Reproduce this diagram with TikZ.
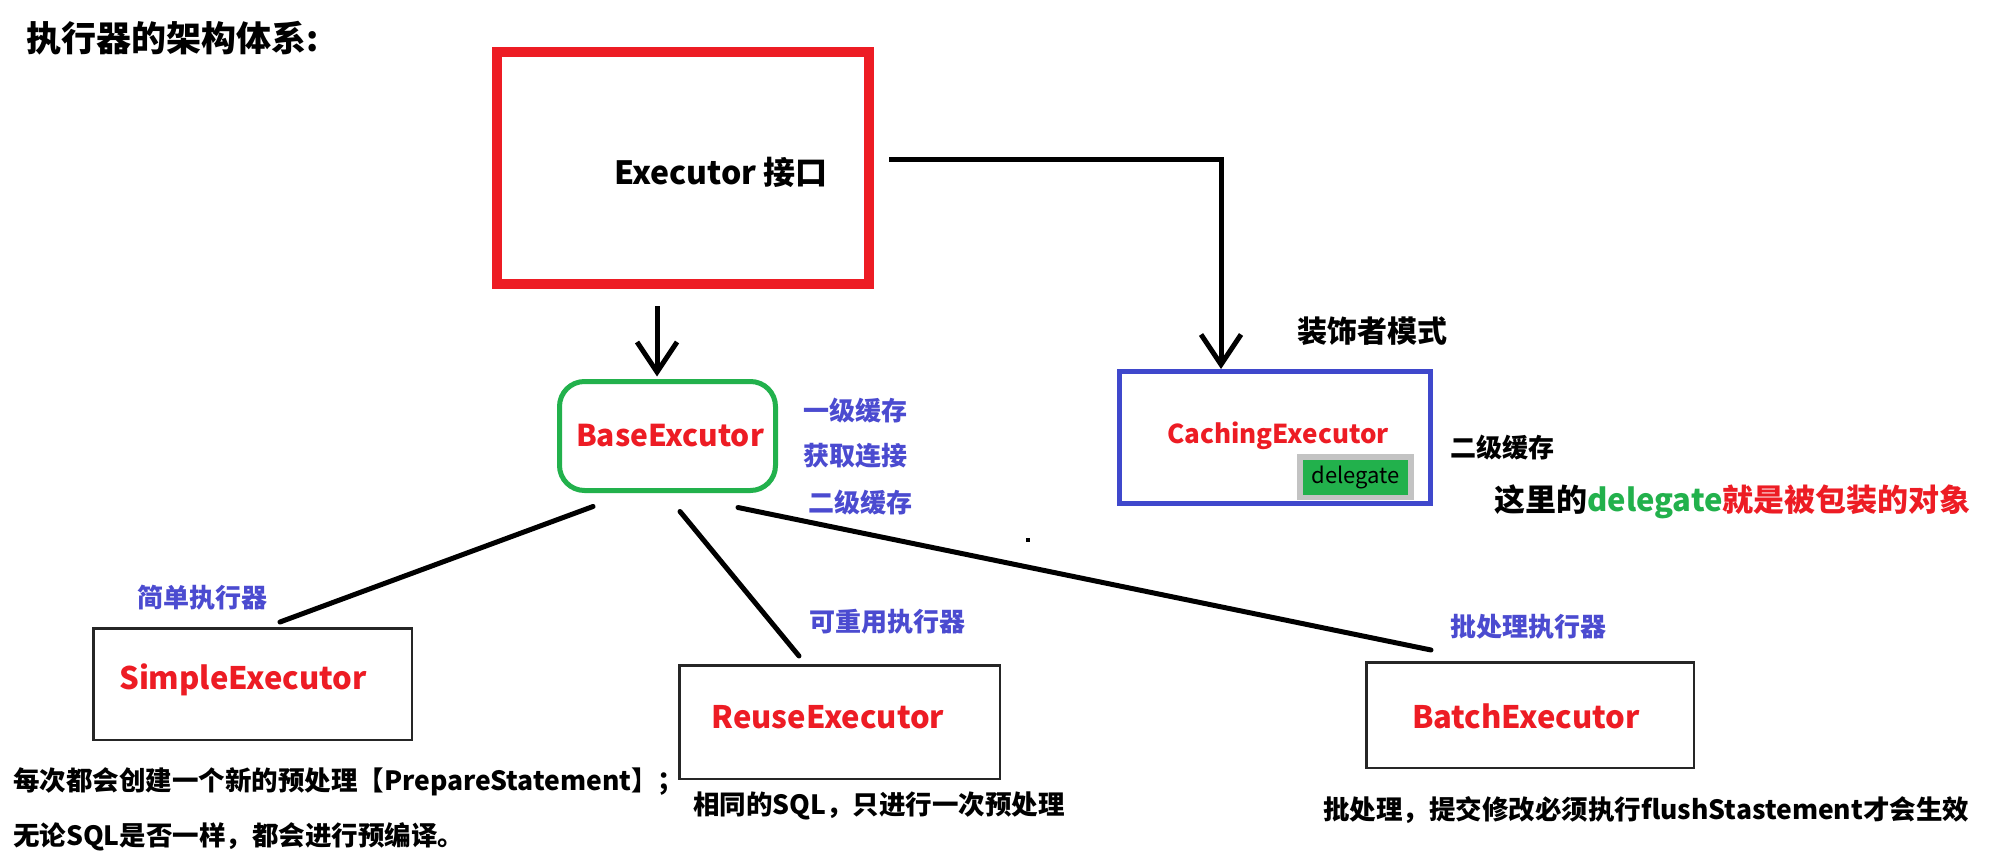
\documentclass[tikz,border=0pt]{standalone}
\usepackage{fontspec}
\setmainfont{Noto Sans CJK SC}
\usetikzlibrary{arrows.meta,calc}
\definecolor{pred}{HTML}{ED1C24}
\definecolor{pgreen}{HTML}{22B14C}
\definecolor{pblue}{HTML}{3F48CC}
\definecolor{tblue}{HTML}{4B4BD0}
\definecolor{pgray}{HTML}{C3C3C3}
\tikzset{
  txt/.style={inner sep=0pt, font=\bfseries\fontsize{#1}{#1}\selectfont},
  txt/.default=25,
  bluetxt/.style={txt=26, text=tblue, anchor=west},
  redtxt/.style={txt=#1, text=pred},
  notetxt/.style={txt=26.5, anchor=west},
  childbox/.style={draw=black!85, line width=2.5pt, inner sep=0pt},
  link/.style={line width=5pt, line cap=round},
  barb/.style={line width=5pt, -{Straight Barb[length=30pt,width=40pt]}},
}
\begin{document}
\begin{tikzpicture}[x=1pt,y=-1pt]
\useasboundingbox (0,0) rectangle (1994,862);
\fill[white] (0,0) rectangle (1994,862);

% title
\node[txt=35, anchor=west] (title) at (26,38) {执行器的架构体系:};

% Executor interface
\node[draw=pred, line width=10pt, minimum width=372pt, minimum height=232pt, inner sep=0pt] (exec) at (683,168) {};
\node[txt=32] (execlabel) at (721,172) {Executor 接口};

% BaseExecutor
\node[draw=pgreen, line width=5pt, rounded corners=25pt, minimum width=216pt, minimum height=109pt, inner sep=0pt] (base) at (667.5,436) {};
\node[redtxt=30] (baselabel) at (670,436) {BaseExcutor};
\node[bluetxt] (l1) at (803,411) {一级缓存};
\node[bluetxt] (l2) at (803,456) {获取连接};
\node[bluetxt] (l3) at (808,503) {二级缓存};

% CachingExecutor
\node[txt=30, anchor=west] (deco) at (1297,331) {装饰者模式};
\node[draw=pblue, line width=5pt, minimum width=311pt, minimum height=132pt, inner sep=0pt] (caching) at (1275,437.5) {};
\node[redtxt=26] (cachinglabel) at (1278,436) {CachingExecutor};
\node[fill=pgray, minimum width=117pt, minimum height=46pt, inner sep=0pt] (delgray) at (1355.5,477) {};
\node[fill=pgreen, minimum width=105pt, minimum height=35pt, inner sep=0pt, font=\fontsize{22}{22}\selectfont] (delegate) at (1355.5,477.5) {delegate};
\node[txt=26, anchor=west] (l2cache) at (1450,448) {二级缓存};
\node[txt=31, anchor=west] (delnote) at (1494,502) {这里的\textcolor{pgreen}{delegate}\textcolor{pred}{就是被包装的对象}};

% children
\node[childbox, minimum width=318.5pt, minimum height=111.5pt] (simple) at (252.5,684) {};
\node[redtxt=31] (simplelabel) at (243,680) {SimpleExecutor};
\node[bluetxt] (simplecap) at (137,598) {简单执行器};

\node[childbox, minimum width=320.5pt, minimum height=113.5pt] (reuse) at (839.5,722) {};
\node[redtxt=31] (reuselabel) at (828,717) {ReuseExecutor};
\node[bluetxt] (reusecap) at (809,622) {可重用执行器};

\node[childbox, minimum width=327.5pt, minimum height=105.5pt] (batch) at (1530,715) {};
\node[redtxt=31] (batchlabel) at (1526,716) {BatchExecutor};
\node[bluetxt] (batchcap) at (1450,627) {批处理执行器};

% notes
\node[notetxt] (n1) at (13,782) {每次都会创建一个新的预处理【PrepareStatement】；};
\node[notetxt] (n2) at (13,837) {无论SQL是否一样，都会进行预编译。};
\node[notetxt] (n3) at (693,806) {相同的SQL，只进行一次预处理};
\node[notetxt] (n4) at (1323,810) {批处理，提交修改必须执行flushStastement才会生效};

% connectors
\draw[barb] ($(exec.south)+(-26,17)$) -- ($(base.north)+(-10.5,-2.5)$);
\draw[barb] ($(exec.east)+(15,-9)$) -| ($(caching.north)+(-54,0)$);
\draw[link] ($(base.south)+(-74.5,13.5)$) -- ($(simple.north)+(27.5,-5)$);
\draw[link] ($(base.south)+(12.5,18.5)$) -- ($(reuse.north)+(-40.5,-8)$);
\draw[link] ($(base.south)+(70.5,14.5)$) -- ($(batch.north)+(-99,-11)$);

% stray mark
\fill (1026,538) rectangle (1030,542);
\end{tikzpicture}
\end{document}
